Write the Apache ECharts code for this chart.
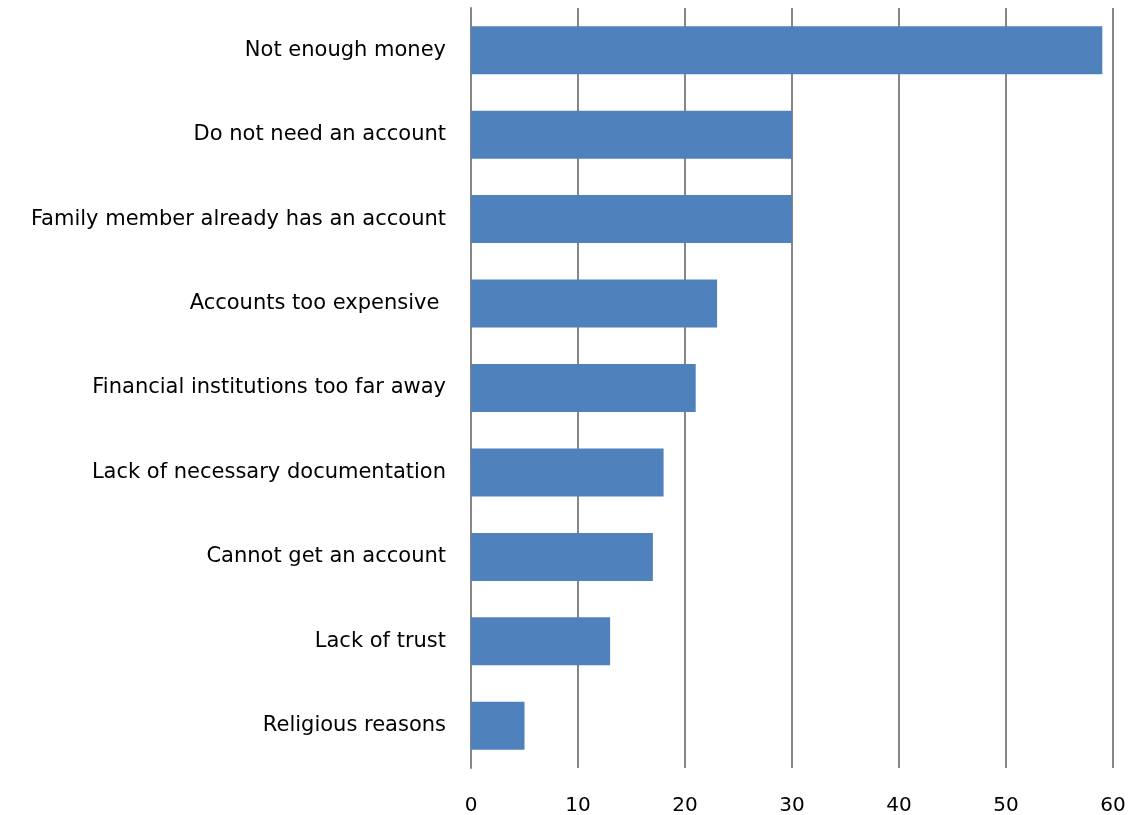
<!DOCTYPE html>
<html><head><meta charset="utf-8">
<script src="https://cdn.jsdelivr.net/npm/echarts@6/dist/echarts.min.js"></script>
<style>html,body{margin:0;padding:0;background:#fff}#c{width:1143px;height:815px}</style>
</head><body><div id="c"></div>
<script>
var categories = ["Not enough money","Do not need an account","Family member already has an account","Accounts too expensive ","Financial institutions too far away","Lack of necessary documentation","Cannot get an account","Lack of trust","Religious reasons"];
var values = [59,30,30,23,21,18,17,13,5];
var xTicks = [0,10,20,30,40,50,60];

var chart = echarts.init(document.getElementById('c'));
chart.setOption({
  animation:false,
  grid:{left:471,right:30,top:8,bottom:47,containLabel:false,outerBoundsMode:'none'},
  xAxis:{type:'value',min:xTicks[0],max:xTicks[xTicks.length-1],interval:10,
    axisLine:{show:false},axisTick:{show:false},
    splitLine:{show:true,lineStyle:{color:'#868686',width:2}},
    axisLabel:{margin:28,color:'#000',fontSize:20,fontFamily:'DejaVu Sans'}},
  yAxis:{type:'category',data:categories,inverse:true,
    axisLine:{show:true,lineStyle:{color:'#868686',width:2}},
    axisTick:{show:false},
    axisLabel:{margin:25,color:'#000',fontSize:21,fontFamily:'DejaVu Sans'}},
  series:[{type:'bar',data:values,barWidth:48,itemStyle:{color:'#4F81BD'}}]
});
</script></body></html>
